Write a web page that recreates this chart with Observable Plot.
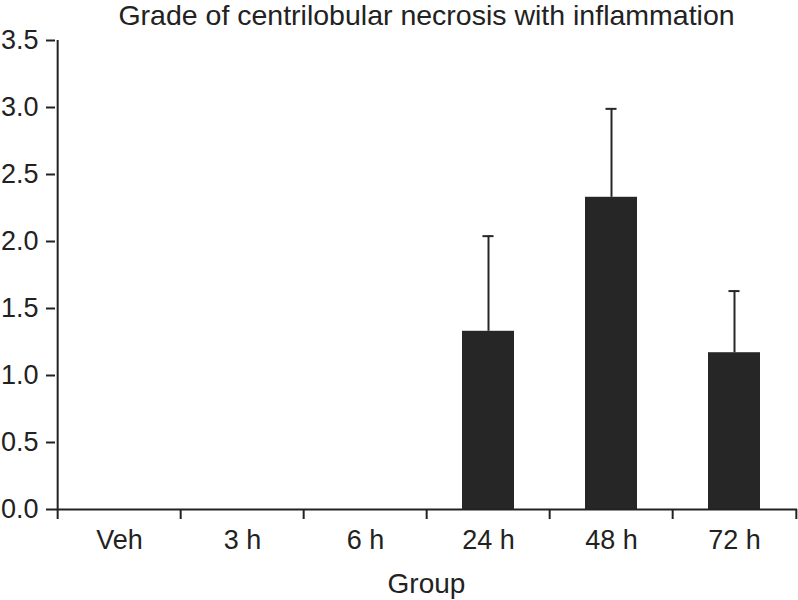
<!DOCTYPE html>
<html>
<head>
<meta charset="utf-8">
<script src="https://cdn.jsdelivr.net/npm/d3@7"></script>
<script src="https://cdn.jsdelivr.net/npm/@observablehq/plot@0.6"></script>
<style>
  html, body { margin: 0; padding: 0; background: #fff; }
</style>
</head>
<body>
<div id="chart"></div>
<script>
const titleText = "Grade of centrilobular necrosis with inflammation";
const xLabel = "Group";
const categories = ["Veh", "3 h", "6 h", "24 h", "48 h", "72 h"];
const means = [0, 0, 0, 1.33, 2.33, 1.17];
const sds = [0, 0, 0, 0.71, 0.66, 0.46];
const yTicks = [0, 0.5, 1.0, 1.5, 2.0, 2.5, 3.0, 3.5];

const data = categories.map((g, i) => ({group: g, mean: means[i], sd: sds[i]}));
const err = data.filter(d => d.sd > 0);

const W = 798, H = 600, mL = 55, mR = 1, mT = 40, mB = 91;
const step = (W - mL - mR) / categories.length;
const pInner = 0.58, pOuter = pInner / 2;
const bw = step * (1 - pInner);
const capInset = (bw - 11) / 2;
const ink = "#222";

const chart = Plot.plot({
  width: W, height: H,
  marginLeft: mL, marginRight: mR, marginTop: mT, marginBottom: mB,
  style: {fontFamily: "'Liberation Sans', Arial, sans-serif", fontSize: "27px", color: ink, background: "white", overflow: "visible"},
  x: {domain: categories, paddingInner: pInner, paddingOuter: pOuter},
  y: {domain: [0, 3.5]},
  marks: [
    Plot.barY(data, {x: "group", y: "mean", fill: "#262626"}),
    Plot.ruleX(err, {x: "group", y1: "mean", y2: d => d.mean + d.sd, stroke: "#262626", strokeWidth: 2}),
    Plot.tickY(err, {x: "group", y: d => d.mean + d.sd, stroke: "#262626", strokeWidth: 2, inset: capInset}),
    Plot.ruleY([0], {stroke: ink, strokeWidth: 2}),
    Plot.ruleX([categories[0]], {x: d => d, y1: 3.5, y2: 0, insetBottom: -10, dx: -step / 2, stroke: ink, strokeWidth: 2}),
    Plot.ruleX(categories.slice(1), {x: d => d, y1: 0, y2: 0, insetBottom: -10, dx: -step / 2, stroke: ink, strokeWidth: 2}),
    Plot.ruleX(categories.slice(-1), {x: d => d, y1: 0, y2: 0, insetBottom: -10, dx: step / 2, stroke: ink, strokeWidth: 2}),
    Plot.axisY({ticks: yTicks, tickSize: 9, tickPadding: 8, tickFormat: d => d.toFixed(1), label: null, strokeWidth: 2}),
    Plot.axisX({tickSize: 0, tickPadding: 20, label: null}),
    Plot.text([titleText], {text: d => d, frameAnchor: "top", lineAnchor: "top", dy: -36, fontSize: 28.5}),
    Plot.text([xLabel], {text: d => d, frameAnchor: "bottom", lineAnchor: "top", dy: 64, fontSize: 28})
  ]
});
document.getElementById("chart").appendChild(chart);
</script>
</body>
</html>
